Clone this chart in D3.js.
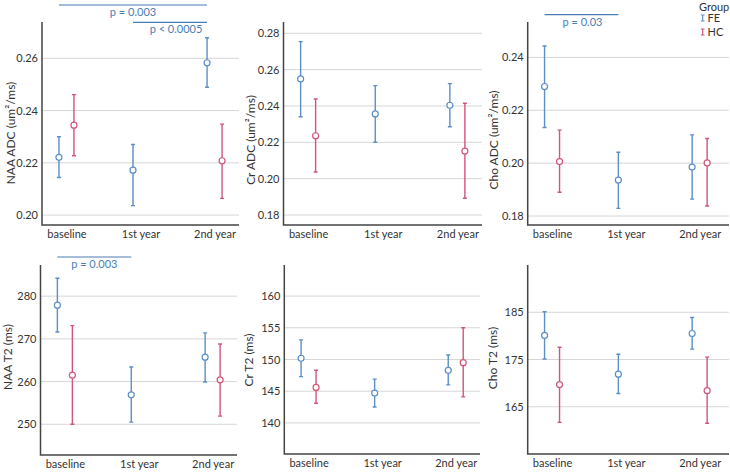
<!DOCTYPE html>
<html><head><meta charset="utf-8">
<script src="https://cdn.jsdelivr.net/npm/d3@7"></script>
<style>
body{margin:0;background:#fff}
svg text{font-family:Lato,"Liberation Sans",sans-serif;fill:#333}
</style>
</head><body>
<svg id="chart" width="730" height="473"></svg>
<script>
// ---------- data ----------
const categories = ["baseline", "1st year", "2nd year"];
const groups = ["FE", "HC"];

// NAA ADC (um²/ms)
const naaAdcTicks = [0.20, 0.22, 0.24, 0.26];
const naaAdcDomain = [0.1962, 0.2739];
const naaAdcFE = [0.2221, 0.2172, 0.2583];
const naaAdcFELo = [0.2144, 0.2036, 0.2489];
const naaAdcFEHi = [0.2300, 0.2270, 0.2679];
const naaAdcHC = [0.2344, null, 0.2208];
const naaAdcHCLo = [0.2227, null, 0.2064];
const naaAdcHCHi = [0.2461, null, 0.2348];

// Cr ADC
const crAdcTicks = [0.18, 0.20, 0.22, 0.24, 0.26, 0.28];
const crAdcDomain = [0.1745, 0.2862];
const crAdcFE = [0.2549, 0.2356, 0.2404];
const crAdcFELo = [0.2341, 0.2200, 0.2286];
const crAdcFEHi = [0.2754, 0.2512, 0.2523];
const crAdcHC = [0.2236, null, 0.2152];
const crAdcHCLo = [0.2037, null, 0.1892];
const crAdcHCHi = [0.2438, null, 0.2415];

// Cho ADC
const choAdcTicks = [0.18, 0.20, 0.22, 0.24];
const choAdcDomain = [0.1766, 0.2534];
const choAdcFE = [0.2290, 0.1936, 0.1985];
const choAdcFELo = [0.2135, 0.1829, 0.1864];
const choAdcFEHi = [0.2443, 0.2041, 0.2107];
const choAdcHC = [0.2006, null, 0.2001];
const choAdcHCLo = [0.1890, null, 0.1838];
const choAdcHCHi = [0.2125, null, 0.2093];

// NAA T2 (ms)
const naaT2Ticks = [250, 260, 270, 280];
const naaT2Domain = [242.8, 287.3];
const naaT2FE = [277.9, 256.9, 265.7];
const naaT2FELo = [271.6, 250.5, 259.9];
const naaT2FEHi = [284.2, 263.4, 271.4];
const naaT2HC = [261.5, null, 260.4];
const naaT2HCLo = [250.0, null, 251.9];
const naaT2HCHi = [273.1, null, 268.8];

// Cr T2 (ms)
const crT2Ticks = [140, 145, 150, 155, 160];
const crT2Domain = [135.1, 164.9];
const crT2FE = [150.2, 144.7, 148.3];
const crT2FELo = [147.3, 142.5, 146.0];
const crT2FEHi = [153.1, 146.9, 150.7];
const crT2HC = [145.6, null, 149.5];
const crT2HCLo = [143.1, null, 144.1];
const crT2HCHi = [148.3, null, 155.0];

// Cho T2 (ms)
const choT2Ticks = [165, 175, 185];
const choT2Domain = [155, 195];
const choT2FE = [180.1, 171.9, 180.5];
const choT2FELo = [175.1, 167.8, 177.2];
const choT2FEHi = [185.1, 176.1, 183.9];
const choT2HC = [169.7, null, 168.4];
const choT2HCLo = [161.7, null, 161.5];
const choT2HCHi = [177.6, null, 175.5];

const panelTitles = ["NAA ADC (um²/ms)", "Cr ADC (um²/ms)", "Cho ADC (um²/ms)",
                     "NAA T2 (ms)", "Cr T2 (ms)", "Cho T2 (ms)"];

// significance brackets: panel, from category, to category, label
const pPanel = [0, 0, 2, 3];
const pFrom = [0, 1, 0, 0];
const pTo = [2, 2, 1, 1];
const pLabels = ["p = 0.003", "p < 0.0005", "p = 0.03", "p = 0.003"];

// ---------- assemble ----------
const series = [
  {ticks: naaAdcTicks, domain: naaAdcDomain, fmt: ".2f", FE: [naaAdcFE, naaAdcFELo, naaAdcFEHi], HC: [naaAdcHC, naaAdcHCLo, naaAdcHCHi]},
  {ticks: crAdcTicks, domain: crAdcDomain, fmt: ".2f", FE: [crAdcFE, crAdcFELo, crAdcFEHi], HC: [crAdcHC, crAdcHCLo, crAdcHCHi]},
  {ticks: choAdcTicks, domain: choAdcDomain, fmt: ".2f", FE: [choAdcFE, choAdcFELo, choAdcFEHi], HC: [choAdcHC, choAdcHCLo, choAdcHCHi]},
  {ticks: naaT2Ticks, domain: naaT2Domain, fmt: "d", FE: [naaT2FE, naaT2FELo, naaT2FEHi], HC: [naaT2HC, naaT2HCLo, naaT2HCHi]},
  {ticks: crT2Ticks, domain: crT2Domain, fmt: "d", FE: [crT2FE, crT2FELo, crT2FEHi], HC: [crT2HC, crT2HCLo, crT2HCHi]},
  {ticks: choT2Ticks, domain: choT2Domain, fmt: "d", FE: [choT2FE, choT2FELo, choT2FEHi], HC: [choT2HC, choT2HCLo, choT2HCHi]}
];

// ---------- layout ----------
const layout = [
  {x0: 42,    x1: 239, gx1: 239, yTop: 22,  yBot: 225, tx: 11,  ty: 133},
  {x0: 283.5, x1: 482, gx1: 482, yTop: 22,  yBot: 225, tx: 251, ty: 140},
  {x0: 527.7, x1: 724, gx1: 729, yTop: 22,  yBot: 225, tx: 494, ty: 140},
  {x0: 40.5,  x1: 237, gx1: 237, yTop: 265, yBot: 455, tx: 8,   ty: 357},
  {x0: 284.3, x1: 480, gx1: 480, yTop: 265, yBot: 454, tx: 249, ty: 360},
  {x0: 527.7, x1: 724, gx1: 729, yTop: 265, yBot: 454, tx: 493, ty: 358}
];
const pLineY = [5, 22.3, 14.7, 257];
const pTextShift = [0, 6, 1, 0];
const colors = {FE: "#5b8fc6", HC: "#d2557a"};
const pColor = "#4a7db4";
const dodge = {FE: -7.5, HC: 7.5};
const fs = 11;

const svg = d3.select("#chart");

const scales = series.map((s, i) => {
  const L = layout[i];
  const x = d3.scalePoint().domain(categories).range([L.x0, L.x1]).padding(0.33);
  const y = d3.scaleLinear().domain(s.domain).range([L.yBot, L.yTop]);
  return {x, y};
});

series.forEach((s, i) => {
  const L = layout[i];
  const {x, y} = scales[i];
  const g = svg.append("g");

  // gridlines
  g.selectAll("line.grid").data(s.ticks).join("line")
    .attr("x1", L.x0).attr("x2", L.gx1)
    .attr("y1", d => y(d)).attr("y2", d => y(d))
    .attr("stroke", "#d6d6d6").attr("stroke-width", 1);

  // y axis
  const yAxis = d3.axisLeft(y).tickValues(s.ticks).tickSize(0).tickPadding(4)
    .tickFormat(d3.format(s.fmt));
  const ya = g.append("g").attr("transform", `translate(${L.x0},0)`).call(yAxis);
  ya.select(".domain").remove();
  ya.attr("font-family", null);
  ya.selectAll("text").attr("font-size", fs).style("fill", "#333");

  // x axis
  const xAxis = d3.axisBottom(x).tickSize(0).tickPadding(5);
  const xa = g.append("g").attr("transform", `translate(0,${L.yBot})`).call(xAxis);
  xa.select(".domain").remove();
  xa.attr("font-family", null);
  xa.selectAll("text").attr("font-size", fs).style("fill", "#333");

  // axis lines
  g.append("path")
    .attr("d", `M${L.x0},${L.yTop}V${L.yBot}H${L.gx1}`)
    .attr("fill", "none").attr("stroke", "#444").attr("stroke-width", 1.5);

  // title
  g.append("text")
    .attr("transform", `translate(${L.tx + 4},${L.ty}) rotate(-90)`)
    .attr("text-anchor", "middle")
    .attr("font-size", 12).text(panelTitles[i]);

  // error bars
  groups.forEach(gr => {
    const [m, lo, hi] = s[gr];
    const pts = categories.map((c, k) => ({c, m: m[k], lo: lo[k], hi: hi[k]})).filter(d => d.m !== null);
    const eg = g.append("g").attr("stroke", colors[gr]).attr("fill", "none").attr("stroke-width", 1.4);
    const cx = d => x(d.c) + dodge[gr];
    eg.selectAll("path.bar").data(pts).join("path")
      .attr("d", d => `M${cx(d)},${y(d.lo)}V${y(d.hi)}M${cx(d)-2},${y(d.hi)}H${cx(d)+2}M${cx(d)-2},${y(d.lo)}H${cx(d)+2}`);
    eg.selectAll("circle").data(pts).join("circle")
      .attr("cx", cx).attr("cy", d => y(d.m)).attr("r", 3)
      .attr("fill", "#fff").attr("stroke-width", 1.2);
  });
});

// significance brackets
pLabels.forEach((lab, j) => {
  const i = pPanel[j];
  const {x} = scales[i];
  const xa = x(categories[pFrom[j]]) + dodge.FE;
  const xb = x(categories[pTo[j]]) + dodge.FE;
  const ly = pLineY[j];
  svg.append("line").attr("x1", xa).attr("x2", xb).attr("y1", ly).attr("y2", ly)
    .attr("stroke", pColor).attr("stroke-width", 1.2);
  svg.append("text").attr("x", (xa + xb) / 2 + pTextShift[j]).attr("y", ly + 11)
    .attr("text-anchor", "middle").attr("font-size", fs)
    .style("fill", pColor).text(lab);
});

// legend
const lg = svg.append("g");
lg.append("text").attr("x", 699).attr("y", 10.5).attr("font-size", 11).text("Group");
groups.forEach((gr, k) => {
  const cy = 18 + k * 14;
  lg.append("path")
    .attr("d", `M702.7,${cy-3}V${cy+3}M700.9,${cy-3}H704.5M700.9,${cy+3}H704.5`)
    .attr("stroke", colors[gr]).attr("stroke-width", 1.2).attr("fill", "none");
  lg.append("text").attr("x", 707.5).attr("y", cy + 4).attr("font-size", 11).text(gr);
});
</script>
</body></html>
